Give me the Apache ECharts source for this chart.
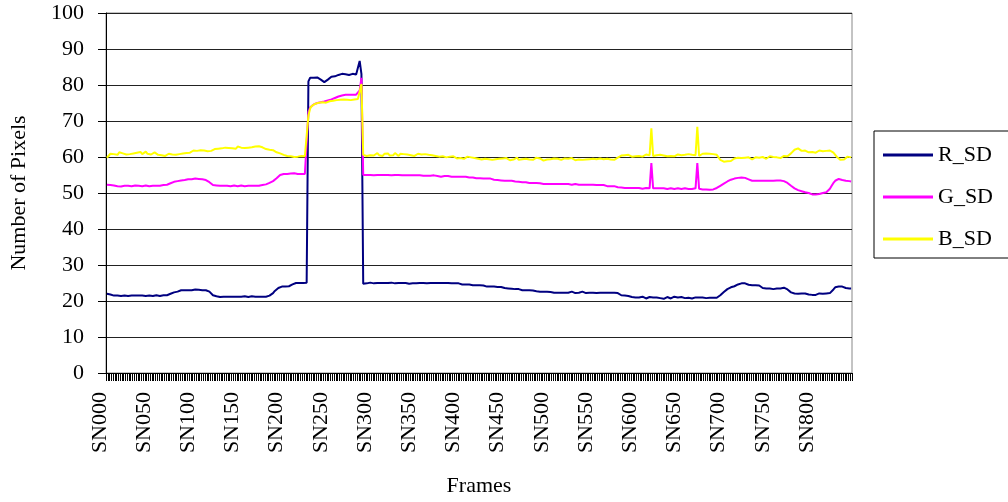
<!DOCTYPE html>
<html>
<head>
<meta charset="utf-8">
<script src="https://cdn.jsdelivr.net/npm/echarts@6/dist/echarts.min.js"></script>
<style>
html,body{margin:0;padding:0;background:#fff;}
#chart{width:1008px;height:502px;}
</style>
</head>
<body>
<div id="chart"></div>
<script>
// Frame categories: SN000, SN002, ..., SN842 (one category every 2 frames)
var frames = [];
for (var k = 0; k < 422; k++) { frames.push('SN' + String(k * 2).padStart(3, '0')); }

var seriesNames = ['R_SD', 'G_SD', 'B_SD'];

var rSD = [
22.0,22.1,21.8,21.6,21.5,21.4,21.5,21.6,21.4,21.5,
21.5,21.3,21.4,21.6,21.5,21.4,21.5,21.6,21.5,21.4,
21.5,21.6,21.4,21.5,21.5,21.6,21.4,21.5,21.6,21.5,
21.4,21.5,21.6,21.5,21.6,21.8,22.0,22.2,22.4,22.5,
22.6,22.8,23.0,22.9,23.0,23.1,23.0,22.8,23.0,23.1,
23.2,23.0,23.1,23.3,23.0,22.9,23.0,22.8,22.6,22.2,
21.6,21.2,21.3,21.2,21.1,21.3,21.2,21.1,21.2,21.3,
21.2,21.1,21.2,21.3,21.2,21.1,21.2,21.2,21.3,21.2,
21.1,21.2,21.3,21.2,21.2,21.1,21.2,21.3,21.2,21.1,
21.2,21.3,21.5,21.8,22.2,22.8,23.3,23.6,23.8,24.0,
24.1,24.0,24.2,24.1,24.3,24.6,24.8,25.0,24.9,25.0,
25.1,25.0,25.0,25.1,81.0,82.0,82.2,82.0,81.8,82.1,
81.9,81.5,81.1,80.8,81.0,81.5,82.0,82.3,82.5,82.4,
82.7,82.8,83.0,83.1,82.9,83.0,83.0,82.8,83.0,83.1,
83.0,82.9,83.2,86.7,83.0,24.8,25.0,24.9,25.0,25.1,
25.0,24.9,25.0,25.0,24.9,25.0,25.1,25.0,24.9,25.0,
25.0,25.1,25.0,24.9,25.0,25.0,25.3,25.0,24.9,25.0,
24.9,24.8,25.0,24.9,25.0,24.9,25.0,25.0,24.9,25.0,
25.0,24.9,25.0,25.0,24.9,25.0,25.0,25.0,24.9,25.0,
25.1,25.0,24.9,25.0,25.0,24.9,25.0,24.9,24.8,24.9,
24.8,24.6,24.7,24.6,24.5,24.6,24.5,24.4,24.5,24.4,
24.3,24.4,24.5,24.3,24.2,24.0,24.1,24.0,23.9,24.0,
24.0,23.9,23.8,23.9,23.7,23.6,23.7,23.5,23.6,23.4,
23.5,23.3,23.2,23.3,23.2,23.0,23.1,23.0,22.9,23.0,
22.8,22.9,22.8,22.7,22.8,22.6,22.7,22.6,22.5,22.6,
22.4,22.5,22.4,22.3,22.4,22.3,22.4,22.3,22.6,22.3,
22.2,22.3,22.3,22.6,22.3,22.2,22.3,22.3,22.6,22.6,
22.3,22.2,22.3,22.3,22.2,22.3,22.3,22.2,22.3,22.3,
22.2,22.3,22.2,22.3,22.2,22.3,22.2,22.3,22.2,22.2,
22.0,21.6,21.5,21.5,21.6,21.4,21.3,21.1,21.0,21.0,
21.1,21.0,20.6,21.2,21.0,20.7,21.0,21.1,20.8,21.0,
20.6,21.0,21.2,20.8,21.0,20.6,21.0,21.1,20.8,20.7,
21.0,21.2,20.8,21.0,20.6,21.1,21.0,20.8,21.3,20.9,
21.0,20.7,21.0,21.0,20.9,21.0,20.9,21.0,20.9,20.8,
20.9,20.9,20.8,20.9,20.9,20.9,21.2,21.6,22.0,22.5,
23.0,23.3,23.5,23.8,24.0,24.1,24.4,24.6,24.8,24.9,
25.0,24.9,24.7,24.5,24.4,24.4,24.3,24.4,24.4,24.3,
23.8,23.6,23.5,23.5,23.4,23.5,23.5,23.3,23.5,23.5,
23.6,23.5,23.6,23.7,23.6,23.2,22.8,22.4,22.1,22.1,
22.1,22.0,22.1,22.1,22.0,22.1,22.1,21.8,21.8,21.7,
21.8,21.7,21.8,22.1,22.1,22.0,22.1,22.1,22.1,22.2,
22.5,23.2,23.8,24.0,24.0,24.1,24.0,23.9,23.6,23.5,
23.5,23.5
];

var gSD = [
52.3,52.4,52.2,52.3,52.1,52.0,51.9,52.0,51.8,51.9,
52.0,51.9,52.0,51.8,51.9,52.0,52.1,51.9,52.0,52.0,
51.9,52.0,52.1,52.0,51.9,52.0,52.0,52.1,52.0,51.9,
52.0,52.1,52.2,52.1,52.3,52.5,52.7,52.9,53.1,53.2,
53.3,53.4,53.5,53.4,53.6,53.7,53.8,53.7,53.8,53.9,
54.0,53.8,53.9,54.0,53.8,53.7,53.6,53.4,53.0,52.6,
52.2,52.0,52.1,51.9,52.0,52.1,52.0,51.9,52.0,52.0,
51.9,52.0,52.1,52.0,51.9,52.0,52.1,52.0,51.9,52.0,
52.0,52.1,52.0,51.9,52.0,52.1,52.0,52.0,52.2,52.3,
52.4,52.6,52.8,53.0,53.3,53.7,54.1,54.6,55.0,55.2,
55.3,55.4,55.3,55.5,55.4,55.3,55.5,55.4,55.3,55.4,
55.3,55.4,55.3,55.4,72.5,73.8,74.3,74.6,74.9,75.0,
75.1,75.2,75.3,75.4,75.6,75.7,75.9,76.0,76.2,76.4,
76.6,76.8,77.0,77.1,77.2,77.3,77.2,77.3,77.4,77.3,
77.4,77.3,77.5,78.5,82.0,55.0,54.9,55.0,55.1,55.0,
55.0,54.9,55.0,55.0,54.9,55.0,55.1,55.0,54.9,55.0,
55.0,54.9,55.0,55.0,54.9,55.0,55.0,54.9,55.0,54.9,
55.0,54.9,54.8,54.9,55.0,54.9,54.8,54.9,54.9,54.8,
54.9,54.8,54.9,54.8,54.8,54.9,54.8,54.7,54.6,54.5,
54.6,54.7,54.8,54.7,54.6,54.5,54.6,54.5,54.4,54.5,
54.6,54.5,54.4,54.5,54.4,54.3,54.2,54.3,54.2,54.1,
54.2,54.1,54.2,54.0,54.1,54.0,53.9,54.0,53.8,53.7,
53.8,53.6,53.7,53.5,53.6,53.4,53.5,53.4,53.3,53.4,
53.3,53.2,53.3,53.1,53.2,53.0,53.1,53.0,52.9,52.8,
52.9,52.8,52.7,52.8,52.6,52.7,52.6,52.5,52.6,52.5,
52.4,52.5,52.4,52.5,52.4,52.5,52.4,52.5,52.4,52.5,
52.4,52.5,52.4,52.3,52.4,52.5,52.4,52.3,52.4,52.3,
52.4,52.3,52.2,52.3,52.2,52.3,52.2,52.2,52.3,52.2,
52.1,52.2,52.0,51.9,52.0,51.9,51.8,51.9,51.7,51.6,
51.6,51.5,51.6,51.4,51.5,51.4,51.3,51.4,51.3,51.4,
51.3,51.4,51.3,51.2,51.3,51.4,51.3,51.3,58.3,51.3,
51.2,51.3,51.2,51.3,51.2,51.3,51.2,51.1,51.2,51.3,
51.2,51.1,51.2,51.3,51.2,51.1,51.2,51.3,51.2,51.1,
51.2,51.1,51.2,51.3,58.3,51.2,51.1,51.0,51.1,51.0,
51.0,50.9,51.0,51.0,51.1,51.4,51.7,52.0,52.3,52.6,
52.9,53.2,53.5,53.7,53.9,54.0,54.1,54.2,54.3,54.3,
54.3,54.2,54.3,53.8,53.5,53.4,53.5,53.4,53.5,53.4,
53.5,53.4,53.5,53.4,53.5,53.4,53.5,53.4,53.4,53.5,
53.4,53.5,53.4,53.3,53.1,52.8,52.4,52.0,51.6,51.3,
51.0,50.8,50.6,50.5,50.4,50.2,50.1,50.0,49.8,49.6,
49.5,49.6,49.5,49.7,49.9,50.0,50.1,50.2,50.6,51.2,
52.0,52.8,53.4,53.8,53.9,53.8,53.6,53.5,53.4,53.3,
53.3,53.2
];

var bSD = [
59.8,60.3,60.9,61.2,60.8,61.1,60.6,61.3,60.9,61.0,
61.4,60.7,61.1,60.8,61.3,61.0,60.6,61.2,60.9,61.4,
60.8,61.1,61.5,60.9,61.2,60.7,61.0,61.3,60.8,60.6,
60.9,60.5,60.8,60.3,60.6,60.9,60.4,60.7,60.2,60.6,
60.4,60.8,60.5,61.0,61.3,61.1,61.6,61.2,61.5,61.8,
61.4,61.7,61.3,61.9,61.5,61.8,61.4,61.6,62.0,61.7,
61.9,62.2,61.8,62.3,62.0,62.4,62.1,62.6,62.3,62.5,
62.8,62.4,62.7,62.3,62.9,63.2,62.6,62.8,62.5,62.9,
62.6,62.3,62.7,62.5,62.9,62.4,63.0,63.3,62.7,62.5,
62.2,62.6,62.0,61.7,61.9,61.5,61.3,61.6,61.0,60.9,
60.6,60.9,60.3,60.6,60.2,60.5,60.0,60.4,60.1,59.9,
60.3,60.0,60.2,59.9,71.5,73.5,74.2,74.5,74.8,75.0,
75.1,74.9,75.2,75.3,75.1,75.4,75.5,75.3,75.6,75.7,
75.8,75.6,75.9,75.8,76.0,75.8,75.9,76.0,75.8,75.9,
76.0,75.9,76.1,76.0,80.3,60.6,61.0,60.3,60.8,60.5,
60.9,60.4,60.7,61.1,60.5,60.8,60.3,60.9,60.6,61.0,
60.4,60.8,60.5,61.1,60.7,60.3,60.9,60.6,60.8,60.4,
60.7,61.0,60.5,60.8,60.3,60.6,60.9,60.4,60.7,60.5,
60.8,60.3,60.6,60.2,60.5,60.7,60.3,60.6,60.1,60.4,
60.2,60.5,59.9,60.3,60.1,59.8,60.2,59.9,59.6,60.1,
59.7,60.0,59.5,59.8,60.1,59.6,59.9,59.4,59.7,60.0,
59.5,59.8,59.3,59.7,59.5,59.9,59.4,59.6,59.2,59.7,
59.4,59.8,59.5,59.2,59.6,59.3,59.7,59.4,59.1,59.6,
59.3,59.5,59.8,59.2,59.6,59.4,59.1,59.5,59.7,59.3,
59.6,59.2,59.5,59.8,59.3,59.6,59.4,59.0,59.5,59.3,
59.7,59.4,59.1,59.6,59.3,59.5,59.8,59.2,59.4,59.6,
59.2,59.5,59.3,59.7,59.4,59.1,59.6,59.3,59.5,59.2,
59.6,59.3,59.8,59.4,59.2,59.5,59.1,59.4,59.3,59.6,
59.1,59.4,59.2,59.5,59.0,59.3,59.6,59.2,59.4,59.8,
60.1,60.4,60.0,60.5,60.2,60.6,60.3,60.1,60.5,60.2,
60.6,60.3,60.5,60.1,60.4,60.7,60.2,60.5,68.0,60.3,
60.1,60.5,60.2,60.6,60.3,60.4,60.7,60.2,60.5,60.3,
60.6,60.2,60.4,60.7,60.3,60.5,60.1,60.6,60.3,60.8,
60.4,60.6,60.2,60.5,68.4,60.3,60.7,60.9,60.6,61.0,
60.7,60.9,60.5,60.8,60.4,60.6,59.9,59.2,59.0,58.7,
59.1,58.8,58.5,58.9,59.3,59.6,59.2,59.8,59.5,59.7,
59.4,59.8,59.5,59.9,59.6,59.3,59.7,59.9,59.5,59.8,
59.6,60.0,59.7,59.5,59.9,60.2,59.8,60.0,59.6,59.9,
60.1,59.7,60.0,60.3,59.9,60.2,60.6,61.0,61.5,62.0,
62.3,62.4,62.0,61.7,61.4,61.8,61.5,61.3,61.7,61.4,
61.6,61.2,61.5,61.8,61.4,61.6,61.3,61.7,61.5,61.8,
61.6,61.2,60.6,60.0,59.5,59.2,59.4,59.3,59.7,60.1,
60.2,59.9
];

var yTicks = { min: 0, max: 100, interval: 10 };
var colors = ['#000080', '#FF00FF', '#FFFF00'];
var FONT = '"Liberation Serif", "DejaVu Serif", serif';

var chart = echarts.init(document.getElementById('chart'), null, { renderer: 'canvas' });
chart.setOption({
  animation: false,
  backgroundColor: '#ffffff',
  textStyle: { fontFamily: FONT, color: '#000' },
  grid: { left: 105, right: 156, top: 13, bottom: 129, show: true, borderColor: '#888', borderWidth: 1, backgroundColor: 'transparent' },
  legend: {
    orient: 'vertical',
    left: 874, top: 131,
    padding: [12, 20, 7, 9],
    itemGap: 18,
    itemWidth: 50, itemHeight: 3,
    icon: 'rect',
    borderColor: '#000', borderWidth: 1,
    textStyle: { fontFamily: FONT, fontSize: 22, color: '#000', lineHeight: 24 },
    data: seriesNames
  },
  xAxis: {
    type: 'category',
    data: frames,
    boundaryGap: true,
    name: 'Frames',
    nameLocation: 'middle',
    nameGap: 102,
    nameTextStyle: { fontFamily: FONT, fontSize: 22, color: '#000' },
    axisLine: { lineStyle: { color: '#000', width: 1 } },
    axisTick: { show: true, inside: false, length: 8, interval: 0, lineStyle: { color: '#000' } },
    axisLabel: { interval: 24, rotate: 90, margin: 19, fontFamily: FONT, fontSize: 22, color: '#000', verticalAlign: 'bottom', lineHeight: 14 },
    splitLine: { show: false }
  },
  yAxis: {
    type: 'value',
    min: yTicks.min, max: yTicks.max, interval: yTicks.interval,
    name: 'Number of Pixels',
    nameLocation: 'middle',
    nameRotate: 90,
    nameGap: 76,
    nameTextStyle: { fontFamily: FONT, fontSize: 22, color: '#000' },
    axisLine: { show: true, lineStyle: { color: '#000', width: 1 } },
    axisTick: { show: true, inside: false, length: 8, lineStyle: { color: '#000' } },
    axisLabel: { margin: 22, fontFamily: FONT, fontSize: 22, color: '#000' },
    splitLine: { show: true, lineStyle: { color: '#222', width: 1 } }
  },
  series: [
    { name: seriesNames[0], type: 'line', data: rSD, symbol: 'none', lineStyle: { color: colors[0], width: 2 }, itemStyle: { color: colors[0] } },
    { name: seriesNames[1], type: 'line', data: gSD, symbol: 'none', lineStyle: { color: colors[1], width: 2 }, itemStyle: { color: colors[1] } },
    { name: seriesNames[2], type: 'line', data: bSD, symbol: 'none', lineStyle: { color: colors[2], width: 2 }, itemStyle: { color: colors[2] } }
  ]
});
</script>
</body>
</html>
